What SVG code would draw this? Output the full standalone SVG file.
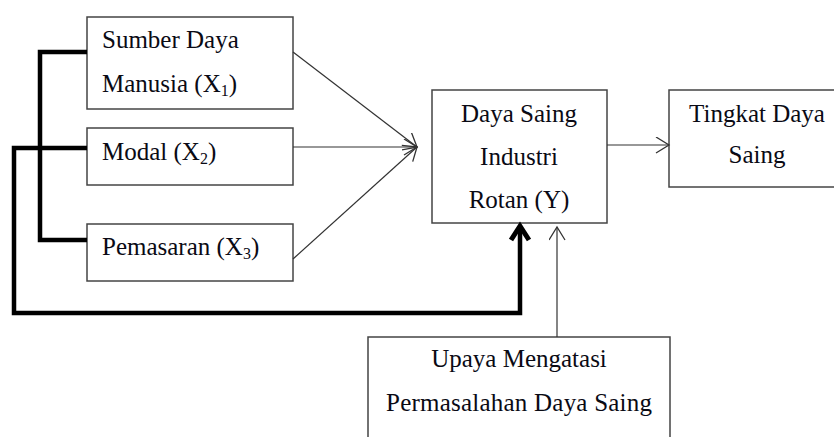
<svg xmlns="http://www.w3.org/2000/svg" width="834" height="437" viewBox="0 0 834 437">
<style>
.box{fill:#fff;stroke:#444;stroke-width:1.5}
.t{font-family:"Liberation Serif","Times New Roman",serif;font-size:25px;fill:#0a0a14}
.c{text-anchor:middle}
.sub{font-size:16px}
.thin{fill:none;stroke:#333;stroke-width:1.2}
.thick{fill:none;stroke:#000;stroke-width:4.5;stroke-linejoin:miter}
</style>
<defs>
<marker id="open" markerUnits="userSpaceOnUse" markerWidth="20" markerHeight="20" refX="14" refY="8" orient="auto" viewBox="0 0 20 20">
<path d="M1,0 L14,8 L1,16" fill="none" stroke="#333" stroke-width="1.3"/>
</marker>
</defs>
<rect width="834" height="437" fill="#fff"/>
<g id="x1">
<rect class="box" x="87" y="17" width="206" height="92"/>
<text class="t" x="102" y="48">Sumber Daya</text>
<text class="t" x="102" y="92">Manusia (X<tspan class="sub" dy="4">1</tspan><tspan dy="-4">)</tspan></text>
</g>
<g id="x2">
<rect class="box" x="87" y="128" width="206" height="57"/>
<text class="t" x="102" y="160">Modal (X<tspan class="sub" dy="4">2</tspan><tspan dy="-4">)</tspan></text>
</g>
<g id="x3">
<rect class="box" x="87" y="224" width="206" height="57"/>
<text class="t" x="102" y="255">Pemasaran (X<tspan class="sub" dy="4">3</tspan><tspan dy="-4">)</tspan></text>
</g>
<g id="y">
<rect class="box" x="432" y="90" width="175" height="133"/>
<text class="t c" x="519" y="122">Daya Saing</text>
<text class="t c" x="519" y="165">Industri</text>
<text class="t c" x="519" y="208">Rotan (Y)</text>
</g>
<g id="tingkat">
<rect class="box" x="669" y="90" width="170" height="97"/>
<text class="t c" x="757" y="122">Tingkat Daya</text>
<text class="t c" x="757" y="163">Saing</text>
</g>
<g id="upaya">
<rect class="box" x="368" y="337" width="302" height="110"/>
<text class="t c" x="519" y="367">Upaya Mengatasi</text>
<text class="t c" x="519" y="411" textLength="266">Permasalahan Daya Saing</text>
</g>
<g id="connectors">
<line class="thin" x1="293" y1="52" x2="417" y2="147" marker-end="url(#open)"/>
<line class="thin" x1="293" y1="147" x2="417" y2="147" marker-end="url(#open)"/>
<line class="thin" x1="293" y1="259" x2="417" y2="147" marker-end="url(#open)"/>
<line class="thin" x1="607" y1="145" x2="669" y2="145" marker-end="url(#open)"/>
<line class="thin" x1="557" y1="337" x2="557" y2="227" marker-end="url(#open)"/>
<polyline class="thick" points="87,52 40,52 40,240 87,240"/>
<polyline class="thick" points="87,148 14,148 14,313 520,313 520,228"/>
<path d="M511,240 L520,226 L529,240" fill="none" stroke="#000" stroke-width="5" stroke-linejoin="miter"/>
</g>
</svg>
